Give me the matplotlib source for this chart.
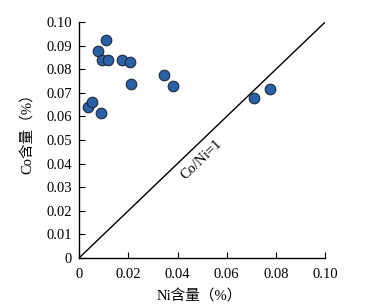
import matplotlib
matplotlib.use("Agg")
import matplotlib.pyplot as plt

ni = [0.0038, 0.0054, 0.0089, 0.0076, 0.0092, 0.0116, 0.0111, 0.0173, 0.0207, 0.0210, 0.0347, 0.0383, 0.0709, 0.0776]
co = [0.0641, 0.0660, 0.0616, 0.0878, 0.0838, 0.0838, 0.0925, 0.0838, 0.0829, 0.0739, 0.0774, 0.0730, 0.0677, 0.0715]
xticks = [0, 0.02, 0.04, 0.06, 0.08, 0.10]
xticklabels = ["0", "0.02", "0.04", "0.06", "0.08", "0.10"]
yticks = [0, 0.01, 0.02, 0.03, 0.04, 0.05, 0.06, 0.07, 0.08, 0.09, 0.10]
yticklabels = ["0", "0.01", "0.02", "0.03", "0.04", "0.05", "0.06", "0.07", "0.08", "0.09", "0.10"]
ref_line = [0, 0.1]

plt.rcParams['font.family'] = ['Liberation Serif', 'Noto Sans CJK SC']
fig = plt.figure(figsize=(3.75, 3.07), dpi=100)
ax = fig.add_axes([0.211, 0.160, 0.656, 0.768])
ax.plot(ref_line, ref_line, color='black', lw=1.0)
ax.scatter(ni, co, s=58, facecolor='#2c5fa3', edgecolor='#1a2a40', linewidth=0.8, zorder=3)
ax.set_xlim(0, 0.1)
ax.set_ylim(0, 0.1)
ax.set_xticks(xticks)
ax.set_xticklabels(xticklabels)
ax.set_yticks(yticks)
ax.set_yticklabels(yticklabels)
for s in ['top', 'right']:
    ax.spines[s].set_visible(False)
for s in ['left', 'bottom']:
    ax.spines[s].set_linewidth(1.0)
ax.tick_params(direction='in', length=4, width=0.8, labelsize=10.5, pad=5)
ax.tick_params(axis='x', pad=7)
ax.set_xlabel('Ni含量（%）', fontsize=10.5, va='center')
ax.xaxis.set_label_coords(0.49, -0.165)
ax.set_ylabel('Co含量（%）', fontsize=10.5, va='center')
ax.yaxis.set_label_coords(-0.207, 0.54)
ax.text(0.0499, 0.0415, 'Co/Ni=1', rotation=44, ha='center', va='center', fontsize=10.5,
        rotation_mode='anchor')
fig.savefig('out.png', dpi=100)
